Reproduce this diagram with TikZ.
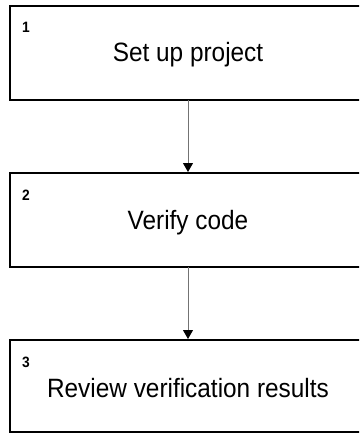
\documentclass[tikz,border=0pt]{standalone}
\usepackage{fontspec}
\setmainfont{Liberation Sans}[FakeStretch=0.92]
\usetikzlibrary{arrows.meta}
\begin{document}
\begin{tikzpicture}[x=1pt,y=-1pt,
  stepbox/.style={draw=black, line width=2pt, fill=white},
  num/.style={anchor=base west, font=\bfseries\fontsize{15}{15}\selectfont, inner sep=0pt},
  lbl/.style={anchor=base, font=\fontsize{26.5}{26.5}\selectfont, inner sep=0pt},
  conn/.style={draw=black!55, line width=1pt, -{Triangle[length=9pt,width=10pt,color=black]}}]
\useasboundingbox (0,0) rectangle (359,433);
\fill[white] (0,0) rectangle (359,433);
\begin{scope}
\clip (0,0) rectangle (359,433);
\draw[stepbox] (10,6) rectangle (380,100);
\draw[stepbox] (10,173) rectangle (380,267);
\draw[stepbox] (10,340) rectangle (380,432);
\coordinate (b1b) at (188,100);
\coordinate (b2t) at (188,172);
\coordinate (b2b) at (188,267);
\coordinate (b3t) at (188,339);
\node[num] (n1) at (22,33) {1};
\node[lbl] (t1) at (188,62) {Set up project};
\node[num] (n2) at (22,200) {2};
\node[lbl] (t2) at (188,229) {Verify code};
\node[num] (n3) at (22,367) {3};
\node[lbl] (t3) at (188,397) {Review verification results};
\draw[conn] (b1b) -- (b2t);
\draw[conn] (b2b) -- (b3t);
\end{scope}
\end{tikzpicture}
\end{document}
